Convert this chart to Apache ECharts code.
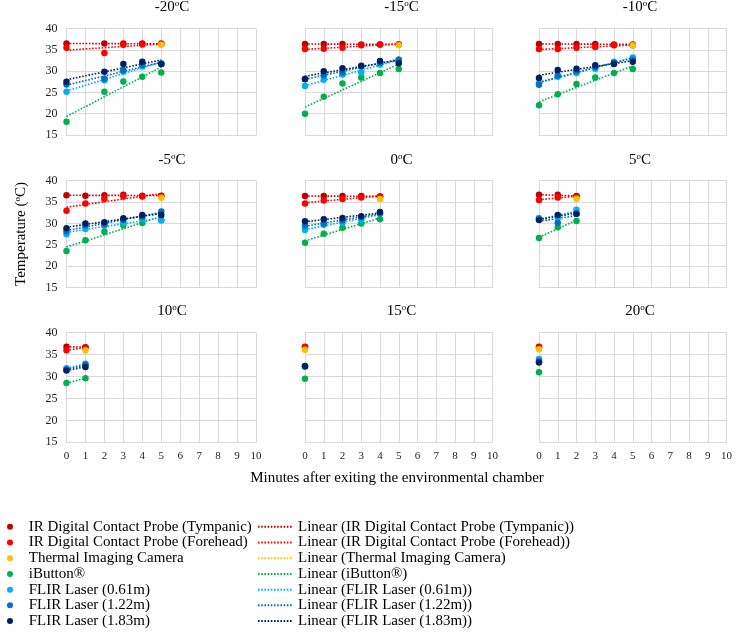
<!DOCTYPE html>
<html><head><meta charset="utf-8">
<script src="https://cdn.jsdelivr.net/npm/echarts@6/dist/echarts.min.js"></script>
<style>html,body{margin:0;padding:0;background:#fff}#c{width:738px;height:634px}</style>
</head><body><div id="c"></div>
<script>
// ---- data ----
const panelTemps = ['-20', '-15', '-10', '-5', '0', '5', '10', '15', '20'];
const minutes = [
  [0, 2, 3, 4, 5], [0, 1, 2, 3, 4, 5], [0, 1, 2, 3, 4, 5],
  [0, 1, 2, 3, 4, 5], [0, 1, 2, 3, 4], [0, 1, 2],
  [0, 1], [0], [0]
];
const tympanic = [
  [36.5, 36.5, 36.5, 36.5, 36.4], [36.4, 36.4, 36.4, 36.3, 36.3, 36.3], [36.4, 36.4, 36.4, 36.4, 36.3, 36.3],
  [36.6, 36.5, 36.6, 36.7, 36.5, 36.5], [36.4, 36.4, 36.4, 36.4, 36.3], [36.7, 36.7, 36.4],
  [36.8, 36.7], [36.8], [36.8]
];
const forehead = [
  [35.5, 34.3, 36.2, 36.3, 36.5], [35.2, 35.3, 35.5, 36.1, 36.3, 36.3], [35.2, 35.2, 35.5, 35.7, 36.1, 36.1],
  [33.0, 34.7, 35.7, 36.3, 36.3, 36.4], [34.7, 35.4, 35.7, 36.1, 36.3], [35.5, 36.1, 36.3],
  [36.0, 36.6], [36.7], [36.7]
];
const thermalMinute = [5, 5, 5, 5, 4, 2, 1, 0, 0];
const thermal = [36.2, 36.1, 36.1, 36.0, 35.7, 35.8, 36.0, 36.1, 36.2];
const ibutton = [
  [18.1, 25.2, 27.6, 28.7, 29.7], [20.0, 24.0, 27.1, 28.5, 29.6, 30.5], [22.0, 24.6, 27.0, 28.5, 29.6, 30.5],
  [23.6, 26.1, 28.1, 29.6, 30.1, 30.9], [25.5, 27.6, 29.0, 30.0, 31.0], [26.6, 29.1, 30.6],
  [28.5, 29.6], [29.5], [31.0]
];
const flir061 = [
  [25.2, 27.9, 29.9, 31.1, 31.7], [26.5, 28.0, 29.2, 29.7, 31.6, 32.7], [27.2, 28.7, 29.6, 30.6, 32.2, 33.2],
  [27.5, 28.7, 29.5, 30.2, 31.1, 30.7], [28.5, 29.7, 30.2, 30.9, 32.3], [31.3, 31.3, 33.2],
  [31.9, 32.9], [32.3], [34.0]
];
const flir122 = [
  [26.9, 28.2, 30.3, 31.5, 31.8], [28.2, 29.0, 29.7, 31.1, 32.0, 32.7], [26.8, 29.0, 30.0, 31.0, 32.0, 32.7],
  [28.2, 29.6, 29.8, 30.8, 31.6, 32.8], [29.5, 30.0, 30.7, 31.5, 32.4], [31.0, 30.2, 32.3],
  [31.6, 32.7], [32.3], [33.5]
];
const flir183 = [
  [27.5, 29.9, 31.7, 32.2, 31.7], [28.1, 30.0, 30.7, 31.3, 32.4, 31.9], [28.4, 30.3, 30.6, 31.4, 31.7, 32.2],
  [28.9, 30.0, 30.3, 31.2, 32.0, 32.0], [30.5, 31.0, 31.3, 31.7, 32.7], [30.8, 32.0, 32.3],
  [31.4, 32.2], [32.4], [33.2]
];
const instrumentNames = [
  'IR Digital Contact Probe (Tympanic)', 'IR Digital Contact Probe (Forehead)', 'Thermal Imaging Camera',
  'iButton®', 'FLIR Laser (0.61m)', 'FLIR Laser (1.22m)', 'FLIR Laser (1.83m)'
];
const xMin = 0, xMax = 10, xStep = 1;
const yMin = 15, yMax = 40, yStep = 5;

// ---- styling / layout ----
const colors = ['#C00000', '#FF0000', '#FFC000', '#00B050', '#00B0F0', '#0070C0', '#002060'];
const FONT = '"Liberation Serif", "Times New Roman", serif';
const colLeft = [66.5, 305, 539];
const colWidth = [189.5, 187.5, 187.5];
const rowTop = [28.7, 180.7, 332.7];
const rowHeight = [106.3, 107, 109.6];
const titleX = [172, 401.5, 640];
const titleY = [7, 160, 311.5];
const GRIDC = '#D9D9D9';

function instrumentSeries(p) {
  const m = minutes[p];
  const zip = arr => arr.map((v, i) => [m[i], v]);
  return [
    zip(tympanic[p]), zip(forehead[p]), [[thermalMinute[p], thermal[p]]],
    zip(ibutton[p]), zip(flir061[p]), zip(flir122[p]), zip(flir183[p])
  ];
}
function trend(pts) {
  if (pts.length < 2) return [];
  const n = pts.length;
  const mx = pts.reduce((s, p) => s + p[0], 0) / n;
  const my = pts.reduce((s, p) => s + p[1], 0) / n;
  let sxy = 0, sxx = 0;
  pts.forEach(p => { sxy += (p[0] - mx) * (p[1] - my); sxx += (p[0] - mx) * (p[0] - mx); });
  const b = sxy / sxx, a = my - b * mx;
  const x0 = Math.min(...pts.map(p => p[0])), x1 = Math.max(...pts.map(p => p[0]));
  return [[x0, a + b * x0], [x1, a + b * x1]];
}

const grids = [], xAxes = [], yAxes = [], series = [], graphics = [];
for (let p = 0; p < 9; p++) {
  const r = Math.floor(p / 3), c = p % 3;
  grids.push({ left: colLeft[c], top: rowTop[r], width: colWidth[c], height: rowHeight[r], containLabel: false });
  xAxes.push({
    gridIndex: p, type: 'value', min: xMin, max: xMax, interval: xStep,
    axisLine: { show: true, lineStyle: { color: GRIDC, width: 1 } },
    axisTick: { show: false },
    splitLine: { show: true, lineStyle: { color: GRIDC, width: 1 } },
    axisLabel: { show: r === 2, fontFamily: FONT, fontSize: 11, color: '#222', margin: 8 }
  });
  yAxes.push({
    gridIndex: p, type: 'value', min: yMin, max: yMax, interval: yStep,
    axisLine: { show: true, lineStyle: { color: GRIDC, width: 1 } },
    axisTick: { show: false },
    splitLine: { show: true, lineStyle: { color: GRIDC, width: 1 } },
    axisLabel: { show: c === 0, fontFamily: FONT, fontSize: 12, color: '#222', margin: 9 }
  });
  const sets = instrumentSeries(p);
  sets.forEach((pts, k) => {
    series.push({
      name: 'Linear (' + instrumentNames[k] + ')', type: 'line', xAxisIndex: p, yAxisIndex: p,
      data: trend(pts), symbol: 'none', showSymbol: false, silent: true, z: 2,
      lineStyle: { color: colors[k], width: 1.6, type: [1.6, 1.6] }, itemStyle: { color: colors[k] }
    });
  });
  sets.forEach((pts, k) => {
    series.push({
      name: instrumentNames[k], type: 'scatter', xAxisIndex: p, yAxisIndex: p,
      data: pts, symbol: 'circle', symbolSize: 6.5, z: 3,
      itemStyle: { color: colors[k], opacity: 1 }
    });
  });
  graphics.push({
    type: 'text', x: titleX[c], y: titleY[r],
    style: {
      text: '{a|' + panelTemps[p] + '}{s|o}{a|C}', align: 'center', verticalAlign: 'middle',
      rich: {
        a: { fontSize: 15, fontFamily: FONT, fill: '#000', lineHeight: 16 },
        s: { fontSize: 9, fontFamily: FONT, fill: '#000', verticalAlign: 'top', lineHeight: 9 }
      }
    }
  });
}
graphics.push({
  type: 'text', x: 21, y: 234, rotation: Math.PI / 2,
  style: {
    text: '{a|Temperature (}{s|o}{a|C)}', align: 'center', verticalAlign: 'middle',
    rich: {
      a: { fontSize: 15, fontFamily: FONT, fill: '#000', lineHeight: 16 },
      s: { fontSize: 9, fontFamily: FONT, fill: '#000', verticalAlign: 'top', lineHeight: 9 }
    }
  }
});
graphics.push({
  type: 'text', x: 397, y: 478,
  style: { text: 'Minutes after exiting the environmental chamber', align: 'center', verticalAlign: 'middle',
    font: '15px ' + FONT, fill: '#000' }
});

const legendText = { fontFamily: FONT, fontSize: 15, color: '#000', lineHeight: 15.7 };
const option = {
  backgroundColor: '#fff',
  animation: false,
  grid: grids, xAxis: xAxes, yAxis: yAxes, series: series,
  graphic: graphics,
  legend: [
    {
      data: instrumentNames.map(n => ({ name: n, icon: 'circle' })), orient: 'vertical', left: 7, top: 519,
      itemWidth: 20, itemHeight: 6, itemGap: 0, padding: 0, selectedMode: false,
      textStyle: legendText, formatter: n => ' ' + n
    },
    {
      data: instrumentNames.map(n => 'Linear (' + n + ')'), orient: 'vertical', left: 257, top: 519,
      itemWidth: 35, itemHeight: 8, itemGap: 0, padding: 0, selectedMode: false,
      itemStyle: { opacity: 0 },
      textStyle: legendText
    }
  ]
};
const chart = echarts.init(document.getElementById('c'), null, { renderer: 'canvas' });
chart.setOption(option);
</script></body></html>
